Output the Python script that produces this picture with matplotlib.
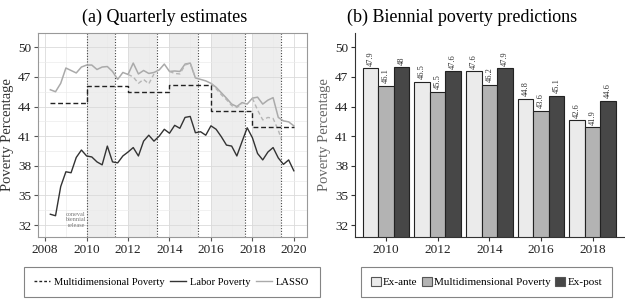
import matplotlib
matplotlib.use('Agg')
import matplotlib.pyplot as plt
import numpy as np
from matplotlib.patches import Patch
from matplotlib.lines import Line2D

plt.rcParams['font.family'] = ['Liberation Serif', 'DejaVu Serif']

# ---- data: quarterly estimates (panel a) ----
quarters = np.arange(2008.25, 2020.01, 0.25)
labor = [33.1, 32.95, 35.9, 37.4, 37.3, 38.85, 39.6, 39.0,
         38.9, 38.4, 38.1, 40.0, 38.4, 38.3, 39.0, 39.4,
         39.85, 39.0, 40.5, 41.1, 40.5, 41.0, 41.7, 41.3,
         42.1, 41.8, 42.9, 43.0, 41.35, 41.45, 41.1, 42.05,
         41.7, 40.95, 40.1, 40.0, 39.0, 40.45, 41.85, 40.85,
         39.25, 38.6, 39.4, 39.85, 38.8, 38.15, 38.6, 37.5]
lasso = [45.7, 45.5, 46.35, 47.9, 47.65, 47.4, 48.0, 48.2,
         48.2, 47.75, 48.0, 48.05, 47.55, 46.75, 47.45, 47.25,
         48.4, 47.3, 47.65, 47.35, 47.45, 47.7, 48.3, 47.55,
         47.6, 47.55, 48.3, 48.4, 46.9, 46.75, 46.6, 46.35,
         45.95, 45.4, 44.85, 44.25, 44.0, 44.4, 44.25, 44.85,
         44.95, 44.25, 44.65, 44.9, 42.9, 42.55, 42.45, 42.05]
# ex-ante LASSO shown (dashed) within the pre-release windows
exante_x = [[2012.0, 2012.25, 2012.5, 2012.75, 2013.0, 2013.25],
            [2014.0, 2014.25, 2014.5, 2014.75, 2015.0, 2015.25],
            [2016.0, 2016.25, 2016.5, 2016.75, 2017.0, 2017.25, 2017.5],
            [2018.0, 2018.25, 2018.5, 2018.75, 2019.0, 2019.25, 2019.4]]
exante_y = [[47.25, 47.0, 46.35, 46.75, 46.3, 47.3],
            [47.55, 47.35, 47.3, 48.2, 48.4, 46.9],
            [46.35, 45.8, 45.2, 44.7, 44.1, 43.9, 44.3],
            [44.85, 43.65, 42.65, 42.9, 42.8, 41.6, 40.7]]
md_years = [2008.25, 2010, 2012, 2014, 2016, 2018, 2020]
md_values = [44.4, 46.1, 45.5, 46.2, 43.6, 41.9, 41.9]
release_dates = [2010.0, 2011.37, 2013.38, 2015.39, 2017.64, 2019.4]
shade_windows = [(2010.0, 2011.37), (2012.0, 2013.38), (2014.0, 2015.39),
                 (2016.0, 2017.64), (2018.0, 2019.4)]

# ---- data: biennial predictions (panel b) ----
bien_years = ['2010', '2012', '2014', '2016', '2018']
ex_ante = [47.9, 46.5, 47.6, 44.8, 42.6]
multidim = [46.1, 45.5, 46.2, 43.6, 41.9]
ex_post = [48, 47.6, 47.9, 45.1, 44.6]

yticks = [32, 35, 38, 41, 44, 47, 50]
ylim = (30.8, 51.45)

fig = plt.figure(figsize=(6.25, 3.05), dpi=100)
ax1 = fig.add_axes([0.061, 0.223, 0.43, 0.669])
ax2 = fig.add_axes([0.568, 0.223, 0.43, 0.669])

# ---------- panel (a) ----------
for a, b in shade_windows:
    ax1.axvspan(a, b, color='#eeeeee', zorder=0, lw=0)
ax1.set_xticks(range(2008, 2021, 2))
ax1.set_xticks(range(2009, 2021, 2), minor=True)
ax1.set_yticks(yticks)
ax1.set_yticks(np.arange(33.5, 51, 3), minor=True)
ax1.grid(True, which='major', color='#dadada', lw=0.6, zorder=0.5)
ax1.grid(True, which='minor', color='#ebebeb', lw=0.5, zorder=0.5)
ax1.set_axisbelow(True)
for d in release_dates:
    ax1.axvline(d, color='#444444', ls=(0, (1, 1.5)), lw=0.8, zorder=1)

ax1.plot(quarters, lasso, color='#aaaaaa', lw=1.1, zorder=2)
for xs, ys in zip(exante_x, exante_y):
    ax1.plot(xs, ys, color='#b5b5b5', lw=1.0, ls=(0, (3, 2)), zorder=2)
ax1.plot(quarters, labor, color='#333333', lw=1.0, zorder=3)
ax1.step(md_years, md_values, where='post', color='#222222', lw=1.0,
         ls=(0, (3.5, 2)), zorder=3)

ax1.text(2009.93, 32.55, 'coneval\nbiennial\nrelease', fontsize=4.5,
         color='#777777', ha='right', va='center', linespacing=1.1)

ax1.set_xlim(2007.66, 2020.63)
ax1.set_ylim(*ylim)
for s in ax1.spines.values():
    s.set_color('#999999')
    s.set_linewidth(0.8)
ax1.tick_params(which='major', length=3, color='#555555', labelsize=9.5,
                labelcolor='#222222', pad=2)
ax1.tick_params(which='minor', length=0)
ax1.set_ylabel('Poverty Percentage', fontsize=10.5, color='#333333', labelpad=3)
ax1.set_title('(a) Quarterly estimates', fontsize=13, pad=8, x=0.47)

# ---------- panel (b) ----------
x = np.arange(len(bien_years))
w = 0.3
colors = ['#ebebeb', '#b3b3b3', '#474747']
labels = ['Ex-ante', 'Multidimensional Poverty', 'Ex-post']
for k, (vals, col) in enumerate(zip([ex_ante, multidim, ex_post], colors)):
    pos = x + (k - 1) * w
    ax2.bar(pos, vals, width=w, color=col, edgecolor='#222222', lw=0.8)
    for p, v in zip(pos, vals):
        ax2.text(p, v + 0.25, f'{v:g}', rotation=90, ha='center', va='bottom',
                 fontsize=6, color='#333333')

ax2.set_xlim(-0.6, 4.6)
ax2.set_ylim(*ylim)
ax2.set_xticks(x)
ax2.set_xticklabels(bien_years)
ax2.set_yticks(yticks)
ax2.spines['top'].set_visible(False)
ax2.spines['right'].set_visible(False)
for s in ['left', 'bottom']:
    ax2.spines[s].set_color('#333333')
    ax2.spines[s].set_linewidth(0.8)
ax2.tick_params(length=3, color='#333333', labelsize=9.5, labelcolor='#222222', pad=2)
ax2.set_ylabel('Poverty Percentage', fontsize=10.5, color='#666666', labelpad=3)
ax2.set_title('(b) Biennial poverty predictions', fontsize=13, pad=8, x=0.4)

# ---------- legends ----------
h1 = [Line2D([], [], color='#222222', lw=1.0, ls=(0, (2, 1.5))),
      Line2D([], [], color='#333333', lw=1.0),
      Line2D([], [], color='#aaaaaa', lw=1.0)]
leg1 = fig.legend(h1, ['Multidimensional Poverty', 'Labor Poverty', 'LASSO'],
                  loc='center', bbox_to_anchor=(0.275, 0.076), ncol=3,
                  fontsize=7.6, handlelength=1.5, handletextpad=0.4,
                  columnspacing=0.5, fancybox=False, edgecolor='#666666',
                  borderpad=1.0, borderaxespad=0)
leg1.get_frame().set_linewidth(0.8)

h2 = [Patch(facecolor=c, edgecolor='#555555', lw=0.8) for c in colors]
leg2 = fig.legend(h2, labels, loc='center', bbox_to_anchor=(0.778, 0.076),
                  ncol=3, fontsize=8, handlelength=0.9, handleheight=0.9,
                  handletextpad=0.2, columnspacing=0.4, fancybox=False,
                  edgecolor='#666666', borderpad=0.9, borderaxespad=0)
leg2.get_frame().set_linewidth(0.8)

fig.savefig('out.png', dpi=100, facecolor='white')
